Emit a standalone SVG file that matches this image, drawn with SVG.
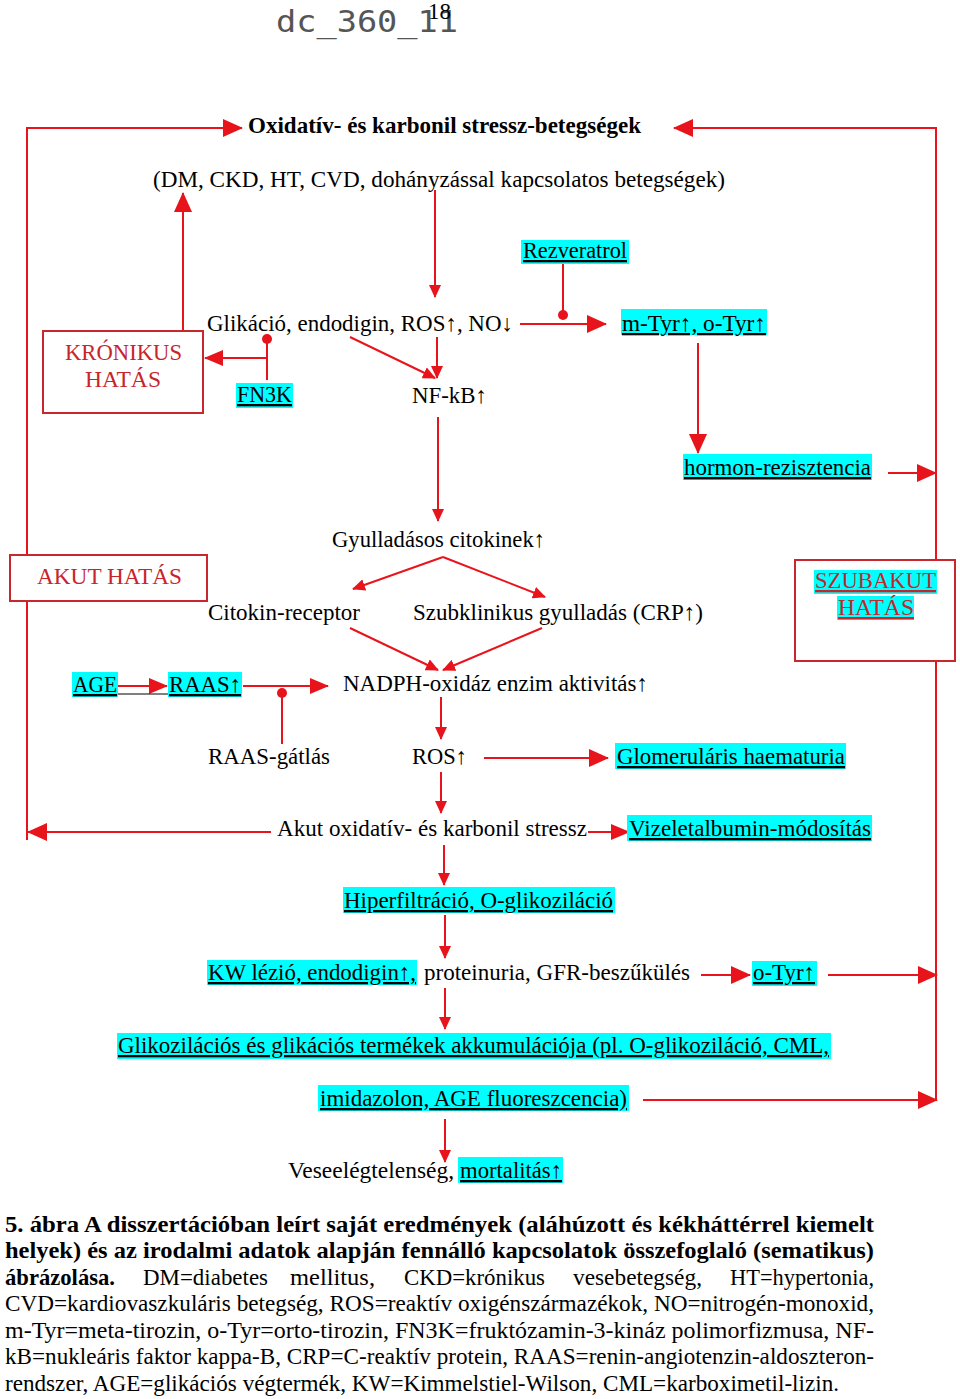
<svg xmlns="http://www.w3.org/2000/svg" width="960" height="1399" viewBox="0 0 960 1399">
<style>
.t{font-family:"Liberation Serif","Times New Roman",serif;font-size:23px;fill:#000}
.c{font-size:22.5px}
.b{font-weight:bold}
.u{text-decoration:underline}
.red{fill:#c8252b}
.hl{fill:#00ffff}
.ln{stroke:#e8141c;stroke-width:2;fill:none}
.box{stroke:#c8282d;stroke-width:2;fill:#fff}
.dot{fill:#e8141c}
.hdr{font-family:"DejaVu Sans Mono","Liberation Mono",monospace;font-size:30px;fill:#555}
</style>
<defs>
<marker id="big" markerUnits="userSpaceOnUse" markerWidth="20" markerHeight="18" refX="19" refY="9" orient="auto"><path d="M0,0 L20,9 L0,18 z" fill="#e8141c"/></marker>
<marker id="md" markerUnits="userSpaceOnUse" markerWidth="19" markerHeight="16" refX="18" refY="8" orient="auto"><path d="M0,0 L19,8 L0,16 z" fill="#e8141c"/></marker>
<marker id="sm" markerUnits="userSpaceOnUse" markerWidth="13" markerHeight="12" refX="12" refY="6" orient="auto"><path d="M0,0 L13,6 L0,12 z" fill="#e8141c"/></marker>
</defs>
<rect width="960" height="1399" fill="#fff"/>

<g id="header">
<text class="hdr" x="276" y="32" textLength="182" lengthAdjust="spacingAndGlyphs">dc_360_11</text>
<text class="t" x="428" y="19" font-size="19">18</text>
</g>

<g id="connectors">
<path class="ln" d="M27,840 V128 H242" marker-end="url(#big)"/>
<path class="ln" d="M936,1100 V128 H674" marker-end="url(#big)"/>
<path class="ln" d="M183,330 V193" marker-end="url(#big)"/>
<path class="ln" d="M435,190 V297" marker-end="url(#sm)"/>
<path class="ln" d="M563,263 V315"/>
<circle class="dot" cx="563" cy="315" r="5"/>
<path class="ln" d="M520,324 H606" marker-end="url(#big)"/>
<path class="ln" d="M267,380 V339"/>
<circle class="dot" cx="267" cy="339" r="5"/>
<path class="ln" d="M267,358 H205" marker-end="url(#md)"/>
<path class="ln" d="M350,337 L435,378" marker-end="url(#sm)"/>
<path class="ln" d="M437,337 V378" marker-end="url(#sm)"/>
<path class="ln" d="M438,417 V521" marker-end="url(#sm)"/>
<path class="ln" d="M698,343 V453" marker-end="url(#big)"/>
<path class="ln" d="M888,473 H936" marker-end="url(#big)"/>
<path class="ln" d="M443,557 L353,589" marker-end="url(#sm)"/>
<path class="ln" d="M443,557 L545,597" marker-end="url(#sm)"/>
<path class="ln" d="M350,628 L438,670" marker-end="url(#sm)"/>
<path class="ln" d="M542,628 L443,670" marker-end="url(#sm)"/>
<path class="ln" d="M118,686 H167" marker-end="url(#md)"/>
<path d="M118,694 H168" stroke="#000" stroke-width="1.2"/>
<path class="ln" d="M243,686 H328" marker-end="url(#md)"/>
<path class="ln" d="M282,693 V744"/>
<circle class="dot" cx="282" cy="693" r="5"/>
<path class="ln" d="M441,697 V739" marker-end="url(#sm)"/>
<path class="ln" d="M484,758 H608" marker-end="url(#big)"/>
<path class="ln" d="M441,772 V813" marker-end="url(#sm)"/>
<path class="ln" d="M588,832 H629" marker-end="url(#md)"/>
<path class="ln" d="M271,832 H28" marker-end="url(#big)"/>
<path class="ln" d="M444,845 V885" marker-end="url(#sm)"/>
<path class="ln" d="M445,915 V958" marker-end="url(#sm)"/>
<path class="ln" d="M701,975 H750" marker-end="url(#big)"/>
<path class="ln" d="M828,975 H937" marker-end="url(#big)"/>
<path class="ln" d="M445,988 V1029" marker-end="url(#sm)"/>
<path class="ln" d="M643,1100 H937" marker-end="url(#big)"/>
<path class="ln" d="M445,1119 V1162" marker-end="url(#sm)"/>
</g>

<g id="title"><text class="t b" x="248" y="133" textLength="393" lengthAdjust="spacingAndGlyphs">Oxidatív- és karbonil stressz-betegségek</text></g>
<g id="diseases"><text class="t" x="153" y="187" textLength="572" lengthAdjust="spacingAndGlyphs">(DM, CKD, HT, CVD, dohányzással kapcsolatos betegségek)</text></g>
<g id="rezveratrol"><rect class="hl" x="521" y="240" width="108" height="24"/><text class="t u" x="523" y="258" textLength="104" lengthAdjust="spacingAndGlyphs">Rezveratrol</text></g>
<g id="glikacio"><text class="t" x="207" y="331" textLength="306" lengthAdjust="spacingAndGlyphs">Glikáció, endodigin, ROS↑, NO↓</text></g>
<g id="mtyr"><rect class="hl" x="621" y="309" width="146" height="26"/><text class="t u" x="622" y="331" textLength="144" lengthAdjust="spacingAndGlyphs">m-Tyr↑, o-Tyr↑</text></g>
<g id="kronikus"><rect class="box" x="43" y="331" width="160" height="82"/><text class="t red" x="65" y="360" textLength="117" lengthAdjust="spacingAndGlyphs">KRÓNIKUS</text><text class="t red" x="85" y="387" textLength="76" lengthAdjust="spacingAndGlyphs">HATÁS</text></g>
<g id="fn3k"><rect class="hl" x="236" y="383" width="57" height="25"/><text class="t u" x="237" y="402" textLength="55" lengthAdjust="spacingAndGlyphs">FN3K</text></g>
<g id="nfkb"><text class="t" x="412" y="403" textLength="75" lengthAdjust="spacingAndGlyphs">NF-kB↑</text></g>
<g id="hormon"><rect class="hl" x="683" y="454" width="189" height="26"/><text class="t u" x="684" y="475" textLength="187" lengthAdjust="spacingAndGlyphs">hormon-rezisztencia</text></g>
<g id="gyull"><text class="t" x="332" y="547" textLength="213" lengthAdjust="spacingAndGlyphs">Gyulladásos citokinek↑</text></g>
<g id="akut"><rect class="box" x="10" y="555" width="197" height="46"/><text class="t red" x="37" y="584" textLength="145" lengthAdjust="spacingAndGlyphs">AKUT HATÁS</text></g>
<g id="citokin"><text class="t" x="208" y="620" textLength="152" lengthAdjust="spacingAndGlyphs">Citokin-receptor</text></g>
<g id="szubklin"><text class="t" x="413" y="620" textLength="290" lengthAdjust="spacingAndGlyphs">Szubklinikus gyulladás (CRP↑)</text></g>
<g id="szubakut"><rect class="box" x="795" y="560" width="160" height="101"/><rect class="hl" x="814" y="570" width="123" height="24"/><rect class="hl" x="837" y="596" width="77" height="24"/><text class="t red u" x="815" y="588" textLength="121" lengthAdjust="spacingAndGlyphs">SZUBAKUT</text><text class="t red u" x="838" y="615" textLength="76" lengthAdjust="spacingAndGlyphs">HATÁS</text></g>
<g id="age"><rect class="hl" x="72" y="672" width="46" height="25"/><text class="t u" x="73" y="692" textLength="44" lengthAdjust="spacingAndGlyphs">AGE</text></g>
<g id="raas"><rect class="hl" x="168" y="672" width="74" height="25"/><text class="t u" x="169" y="692" textLength="72" lengthAdjust="spacingAndGlyphs">RAAS↑</text></g>
<g id="nadph"><text class="t" x="343" y="691" textLength="305" lengthAdjust="spacingAndGlyphs">NADPH-oxidáz enzim aktivitás↑</text></g>
<g id="raasgatlas"><text class="t" x="208" y="764" textLength="122" lengthAdjust="spacingAndGlyphs">RAAS-gátlás</text></g>
<g id="ros"><text class="t" x="412" y="764" textLength="55" lengthAdjust="spacingAndGlyphs">ROS↑</text></g>
<g id="glom"><rect class="hl" x="615" y="743" width="231" height="26"/><text class="t u" x="617" y="764" textLength="228" lengthAdjust="spacingAndGlyphs">Glomeruláris haematuria</text></g>
<g id="akutstress"><text class="t" x="277" y="836" textLength="310" lengthAdjust="spacingAndGlyphs">Akut oxidatív- és karbonil stressz</text></g>
<g id="vizelet"><rect class="hl" x="627" y="815" width="245" height="26"/><text class="t u" x="629" y="836" textLength="242" lengthAdjust="spacingAndGlyphs">Vizeletalbumin-módosítás</text></g>
<g id="hiper"><rect class="hl" x="343" y="887" width="272" height="26"/><text class="t u" x="344" y="908" textLength="269" lengthAdjust="spacingAndGlyphs">Hiperfiltráció, O-glikoziláció</text></g>
<g id="kw"><rect class="hl" x="207" y="960" width="210" height="25"/><text class="t u" x="208" y="980" textLength="208" lengthAdjust="spacingAndGlyphs">KW lézió, endodigin↑,</text><text class="t" x="424" y="980" textLength="266" lengthAdjust="spacingAndGlyphs">proteinuria, GFR-beszűkülés</text></g>
<g id="otyr"><rect class="hl" x="752" y="961" width="65" height="25"/><text class="t u" x="753" y="980" textLength="62" lengthAdjust="spacingAndGlyphs">o-Tyr↑</text></g>
<g id="glikoz"><rect class="hl" x="117" y="1033" width="714" height="26"/><text class="t u" x="118" y="1053" textLength="711" lengthAdjust="spacingAndGlyphs">Glikozilációs és glikációs termékek akkumulációja (pl. O-glikoziláció, CML,</text></g>
<g id="imid"><rect class="hl" x="318" y="1085" width="311" height="26"/><text class="t u" x="320" y="1106" textLength="307" lengthAdjust="spacingAndGlyphs">imidazolon, AGE fluoreszcencia)</text></g>
<g id="vese"><text class="t" x="288" y="1178" textLength="166" lengthAdjust="spacingAndGlyphs">Veseelégtelenség,</text><rect class="hl" x="458" y="1157" width="105" height="26"/><text class="t u" x="460" y="1178" textLength="102" lengthAdjust="spacingAndGlyphs">mortalitás↑</text></g>

<g id="caption">
<text class="t c b" x="5" y="1232" textLength="869" lengthAdjust="spacingAndGlyphs">5. ábra A disszertációban leírt saját eredmények (aláhúzott és kékháttérrel kiemelt</text>
<text class="t c b" x="5" y="1258" textLength="869" lengthAdjust="spacingAndGlyphs">helyek) és az irodalmi adatok alapján fennálló kapcsolatok összefoglaló (sematikus)</text>
<text class="t c b" x="5" y="1285" textLength="110" lengthAdjust="spacingAndGlyphs">ábrázolása.</text>
<text class="t c" x="143" y="1285" textLength="125" lengthAdjust="spacingAndGlyphs">DM=diabetes</text>
<text class="t c" x="290" y="1285" textLength="85" lengthAdjust="spacingAndGlyphs">mellitus,</text>
<text class="t c" x="404" y="1285" textLength="141" lengthAdjust="spacingAndGlyphs">CKD=krónikus</text>
<text class="t c" x="573" y="1285" textLength="129" lengthAdjust="spacingAndGlyphs">vesebetegség,</text>
<text class="t c" x="730" y="1285" textLength="144" lengthAdjust="spacingAndGlyphs">HT=hypertonia,</text>
<text class="t c" x="5" y="1311" textLength="869" lengthAdjust="spacingAndGlyphs">CVD=kardiovaszkuláris betegség, ROS=reaktív oxigénszármazékok, NO=nitrogén-monoxid,</text>
<text class="t c" x="5" y="1338" textLength="869" lengthAdjust="spacingAndGlyphs">m-Tyr=meta-tirozin, o-Tyr=orto-tirozin, FN3K=fruktózamin-3-kináz polimorfizmusa, NF-</text>
<text class="t c" x="5" y="1364" textLength="869" lengthAdjust="spacingAndGlyphs">kB=nukleáris faktor kappa-B, CRP=C-reaktív protein, RAAS=renin-angiotenzin-aldoszteron-</text>
<text class="t c" x="5" y="1391" textLength="834" lengthAdjust="spacingAndGlyphs">rendszer, AGE=glikációs végtermék, KW=Kimmelstiel-Wilson, CML=karboximetil-lizin.</text>
</g>
</svg>
